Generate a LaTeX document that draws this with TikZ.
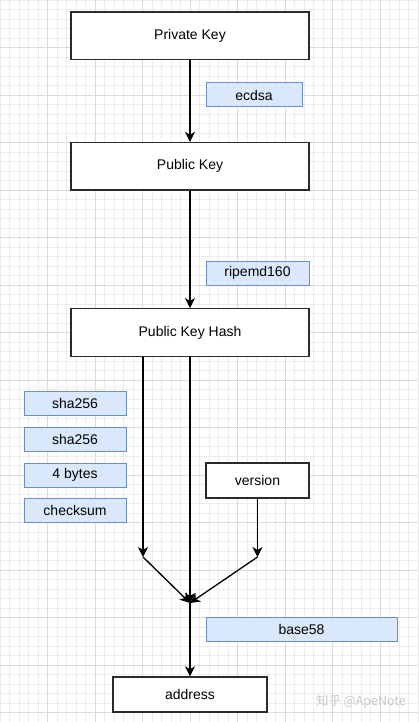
\documentclass[tikz,border=0pt]{standalone}
\usepackage{fontspec}
\setmainfont{Liberation Sans}
\newfontfamily\cjk{Noto Sans CJK SC}
\usetikzlibrary{arrows.meta}
\definecolor{bluefill}{HTML}{DAE8FC}
\definecolor{blueline}{HTML}{6C8EBF}
\definecolor{gridminor}{HTML}{ECECEC}
\definecolor{gridmajor}{HTML}{DADADA}
\definecolor{boxline}{HTML}{2A2A2A}
\begin{document}
\begin{tikzpicture}[x=1pt,y=-1pt,
  box/.style={draw=boxline, line width=1.4pt, fill=white, inner sep=0pt,
    font=\fontsize{14}{16}\selectfont},
  lbl/.style={draw=blueline, line width=1pt, fill=bluefill, inner sep=0pt,
    minimum height=24pt, font=\fontsize{14}{16}\selectfont},
  flow/.style={line width=1.3pt, draw=black, -{Stealth[length=10pt,width=10pt,inset=3pt]}},
  gridline/.style={draw=gridminor, line width=0.6pt},
  gridmaj/.style={draw=gridmajor, line width=0.9pt}
]
\useasboundingbox (0,0) rectangle (418,722);
\fill[white] (0,0) rectangle (418,722);
% grid
\foreach \i in {0,...,44} {\draw[gridline] (\i*9.5,0) -- (\i*9.5,722);}
\foreach \j in {0,...,76} {\draw[gridline] (0,\j*9.5) -- (418,\j*9.5);}
\foreach \i in {1,...,8} {\draw[gridmaj] (\i*47.5,0) -- (\i*47.5,722);}
\foreach \j in {1,...,15} {\draw[gridmaj] (0,\j*47.5) -- (418,\j*47.5);}

% main boxes
\node[box, minimum width=238pt, minimum height=47.5pt] (priv) at (190,35.6) {Private Key};
\node[box, minimum width=238pt, minimum height=47.5pt] (pub) at (190,166.25) {Public Key};
\node[box, minimum width=238pt, minimum height=47.5pt] (pkh) at (190,332.5) {Public Key Hash};
\node[box, minimum width=103pt, minimum height=35pt] (ver) at (257.5,480.5) {version};
\node[box, minimum width=154pt, minimum height=35pt] (addr) at (190,694.5) {address};

% labels
\node[lbl, minimum width=96pt] (ecdsa) at (254,95) {ecdsa};
\node[lbl, minimum width=103pt] (ripemd) at (257.5,273) {ripemd160};
\node[lbl, minimum width=102pt] (sha1) at (75,403.5) {sha256};
\node[lbl, minimum width=102pt] (sha2) at (75,439) {sha256};
\node[lbl, minimum width=102pt] (four) at (75,475) {4 bytes};
\node[lbl, minimum width=102pt] (chk) at (75,510.5) {checksum};
\node[lbl, minimum width=191pt] (b58) at (301.5,629) {base58};

% connectors
\coordinate (lt) at (143,557);
\coordinate (rt) at (257.5,557);
\coordinate (merge) at (190,603);
\draw[flow] (priv) -- (pub);
\draw[flow] (pub) -- (pkh);
\draw[flow] (pkh.south -| lt) -- (lt);
\draw[flow] (lt) -- (merge);
\draw[flow] (ver) -- (rt);
\draw[flow] (rt) -- (merge);
\draw[flow] (pkh) -- (merge);
\draw[flow] (merge) -- (addr);

% watermark
\node[text=black!22, font=\cjk\fontsize{12.5}{14}\selectfont] (wm) at (361,702) {知乎 @ApeNote};
\end{tikzpicture}
\end{document}
